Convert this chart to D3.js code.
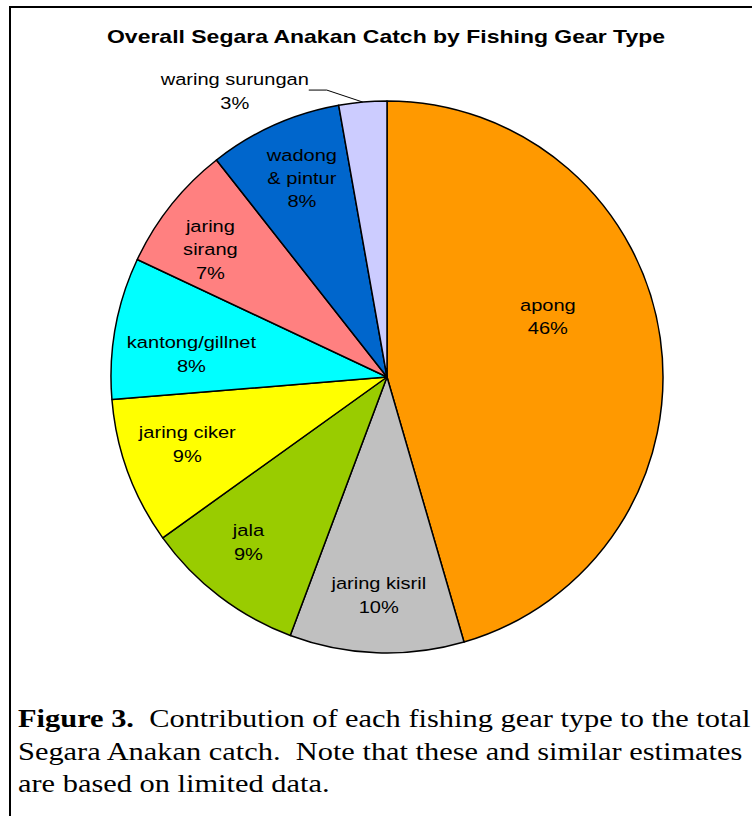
<!DOCTYPE html>
<html>
<head>
<meta charset="utf-8">
<script src="https://cdn.jsdelivr.net/npm/d3@7"></script>
<style>
  body { margin: 0; background: #fff; }
  .sliceLabel { font-family: "Liberation Sans", Arial, sans-serif; font-size: 17px; fill: #000; }
  .title { font-family: "Liberation Sans", Arial, sans-serif; font-size: 19px; font-weight: bold; }
  .caption { font-family: "Liberation Serif", "Times New Roman", serif; font-size: 26px; }
</style>
</head>
<body>
<div id="chart"></div>
<script>
// data (share of total catch, clockwise from 12 o'clock)
var gearNames = ["apong", "jaring kisril", "jala", "jaring ciker", "kantong/gillnet", "jaring sirang", "wadong & pintur", "waring surungan"];
var gearShares = [45.5, 10.2, 9.4, 8.6, 8.3, 7.4, 7.8, 2.8];
var gearFills = ["#ff9900", "#c0c0c0", "#99cc00", "#ffff00", "#00ffff", "#ff8080", "#0066cc", "#ccccff"];
// how each label breaks into lines
var labelLines = [["apong"], ["jaring kisril"], ["jala"], ["jaring ciker"], ["kantong/gillnet"], ["jaring", "sirang"], ["wadong", "& pintur"], ["waring surungan"]];

var width = 752, height = 816;
var cx = 387, cy = 377, radius = 276;
var lineH = 23.5;
// the original figure's text is a bit wider than it is tall
var stretchX = 1.18;

// small placement tweaks, like Excel's best fit
var labelRadius = 0.79;
var labelNudge = {
  "apong": [-55, -30],
  "jala": [-6, -8],
  "jaring ciker": [5, -8],
  "kantong/gillnet": [19, 16],
  "jaring sirang": [-6, 8],
  "wadong & pintur": [4, 0]
};

var svg = d3.select("#chart").append("svg")
  .attr("width", width)
  .attr("height", height);

// figure frame
svg.append("path")
  .attr("d", "M10," + height + " V7 H" + (width + 5))
  .attr("fill", "none")
  .attr("stroke", "#000")
  .attr("stroke-width", 2);

svg.append("text")
  .attr("class", "title")
  .attr("text-anchor", "middle")
  .attr("transform", "translate(" + (cx - 1) + ",43) scale(1.21,1)")
  .text("Overall Segara Anakan Catch by Fishing Gear Type");

var items = gearNames.map(function(name, i) {
  return { name: name, value: gearShares[i], fill: gearFills[i], lines: labelLines[i] };
});
var total = d3.sum(gearShares);

var pie = d3.pie()
  .sort(null)
  .value(function(d) { return d.value; });
var arcs = pie(items);

var arc = d3.arc().innerRadius(0).outerRadius(radius);
var labelArc = d3.arc().innerRadius(radius * labelRadius).outerRadius(radius * labelRadius);

var pieG = svg.append("g")
  .attr("transform", "translate(" + cx + "," + cy + ")");

pieG.selectAll("path.slice")
  .data(arcs)
  .enter()
  .append("path")
  .attr("class", "slice")
  .attr("d", arc)
  .attr("fill", function(d) { return d.data.fill; })
  .attr("stroke", "#000")
  .attr("stroke-width", 1.5)
  .attr("stroke-linejoin", "round");

arcs.forEach(function(d, i) {
  var pct = Math.round(d.data.value / total * 100) + "%";
  var lines = d.data.lines.concat([pct]);
  var pos;
  var outside = (d.endAngle - d.startAngle) < 0.25;

  if (outside) {
    // small slice: label sits outside with a leader line
    var mid = (d.startAngle + d.endAngle) / 2;
    var edge = [Math.sin(mid) * radius, -Math.cos(mid) * radius];
    var elbow = [edge[0] - 36, edge[1] - 12];
    var lineEnd = [elbow[0] - 18, elbow[1]];
    pieG.append("polyline")
      .attr("points", [edge, elbow, lineEnd].map(function(p) { return p.join(","); }).join(" "))
      .attr("fill", "none")
      .attr("stroke", "#000")
      .attr("stroke-width", 1);
    pos = [lineEnd[0] - 74, lineEnd[1] + 1];
  } else {
    pos = labelArc.centroid(d);
    var nudge = labelNudge[d.data.name] || [0, 0];
    pos = [pos[0] + nudge[0], pos[1] + nudge[1]];
  }

  var t = pieG.append("text")
    .attr("class", "sliceLabel")
    .attr("text-anchor", "middle")
    .attr("transform", "translate(" + pos[0] + "," + pos[1] + ") scale(" + stretchX + ",1)");
  var y0 = -(lines.length - 1) * lineH / 2 + 6;
  lines.forEach(function(line, k) {
    t.append("tspan")
      .attr("x", 0)
      .attr("y", y0 + k * lineH)
      .text(line);
  });
});

// caption under the chart
var captionLines = [
  [{ b: true, s: "Figure 3." }, { b: false, s: "\u00a0 Contribution of each fishing gear type to the total" }],
  [{ b: false, s: "Segara Anakan catch.\u00a0 Note that these and similar estimates" }],
  [{ b: false, s: "are based on limited data." }]
];
captionLines.forEach(function(parts, k) {
  var t = svg.append("text")
    .attr("class", "caption")
    .attr("transform", "translate(18," + (727 + k * 32.5) + ") scale(1.17,1)");
  parts.forEach(function(p) {
    t.append("tspan")
      .attr("font-weight", p.b ? "bold" : "normal")
      .text(p.s);
  });
});
</script>
</body>
</html>
